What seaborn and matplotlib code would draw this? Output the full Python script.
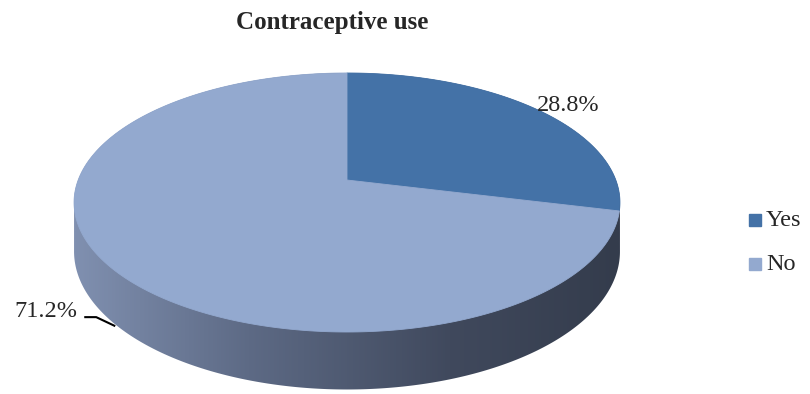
import numpy as np
import matplotlib
matplotlib.use("Agg")
import matplotlib.pyplot as plt
from matplotlib.patches import Polygon
from matplotlib.colors import LinearSegmentedColormap
import seaborn as sns

# ---- data ----
categories = ["Yes", "No"]
values = [28.8, 71.2]
labels = ["28.8%", "71.2%"]
title = "Contraceptive use"
slice_colors = ["#4472a7", "#93a9cf"]

sns.set_style("white")
plt.rcParams['font.family'] = ['Liberation Serif', 'DejaVu Serif']

W, H = 810, 394
fig = plt.figure(figsize=(W / 100, H / 100), dpi=100)
ax = fig.add_axes([0, 0, 1, 1])
ax.set_xlim(0, W)
ax.set_ylim(H, 0)
ax.axis('off')

# perspective projection of a pie disk
cx, cy = 347, 180
a, b, k = 268.8, 125.6, 0.1737
depth = 47.5


def proj(theta_deg, drop=0.0):
    t = np.radians(np.asarray(theta_deg, dtype=float))
    u, v = np.cos(t), np.sin(t)
    w = 1 + k * v
    return cx + a * u / w, cy + (-b * v + drop) / w


# side (extrusion) with horizontal gradient
edge = np.degrees(np.arcsin(k))
top_t = np.linspace(-edge, 180 + edge, 300)
bot_t = np.linspace(180 + edge, 360 - edge, 300)
tx, ty = proj(top_t)
bx, by = proj(bot_t, depth)
side_pts = np.column_stack([np.concatenate([tx, bx]), np.concatenate([ty, by])])
side = Polygon(side_pts, closed=True, facecolor='none', edgecolor='none')
ax.add_patch(side)
xl, xr = side_pts[:, 0].min(), side_pts[:, 0].max()
stops = [(0.0, (128/255, 144/255, 176/255)), (0.32, (93/255, 106/255, 133/255)),
         (0.69, (64/255, 73/255, 93/255)), (1.0, (52/255, 60/255, 76/255))]
cmap = LinearSegmentedColormap.from_list("side", stops)
grad = np.linspace(0, 1, 512)[None, :]
im = ax.imshow(grad, cmap=cmap, aspect='auto',
               extent=[xl, xr, side_pts[:, 1].max() + 1, side_pts[:, 1].min() - 1],
               interpolation='bilinear', zorder=1)
im.set_clip_path(side)

# top faces
start = 90.0
mids = []
for cat, val, col in zip(categories, values, slice_colors):
    sweep = 360.0 * val / sum(values)
    ts = np.linspace(start, start - sweep, 400)
    px, py = proj(ts)
    pts = np.column_stack([np.concatenate([[cx], px]), np.concatenate([[cy], py])])
    ax.add_patch(Polygon(pts, closed=True, facecolor=col, edgecolor=col, lw=0.6, zorder=2))
    mids.append(start - sweep / 2)
    start -= sweep

# data labels
fs = 17.5
mx, my = proj(mids[0])
ax.text(mx - 1, my - 4, labels[0], ha='left', va='center', fontsize=fs, zorder=5)

ex, ey = proj(mids[1], depth)
ex, ey = ex + 5, ey + 6
ax.plot([ex, ex - 19, ex - 31], [ey, ey - 9, ey - 9], color='black', lw=1.5,
        solid_capstyle='butt', zorder=5)
ax.text(ex - 38, ey - 15, labels[1], ha='right', va='center', fontsize=fs, zorder=5)

# title
ax.text(332, 22, title, ha='center', va='center', fontsize=18, fontweight='bold')

# legend
for i, (cat, col) in enumerate(zip(categories, slice_colors)):
    y = 220 + i * 44
    ax.plot([754.5], [y], marker='s', markersize=8.6, color=col, linestyle='none')
    ax.text(766, y, cat, ha='left', va='center', fontsize=fs)

fig.savefig("out.png", dpi=100)
